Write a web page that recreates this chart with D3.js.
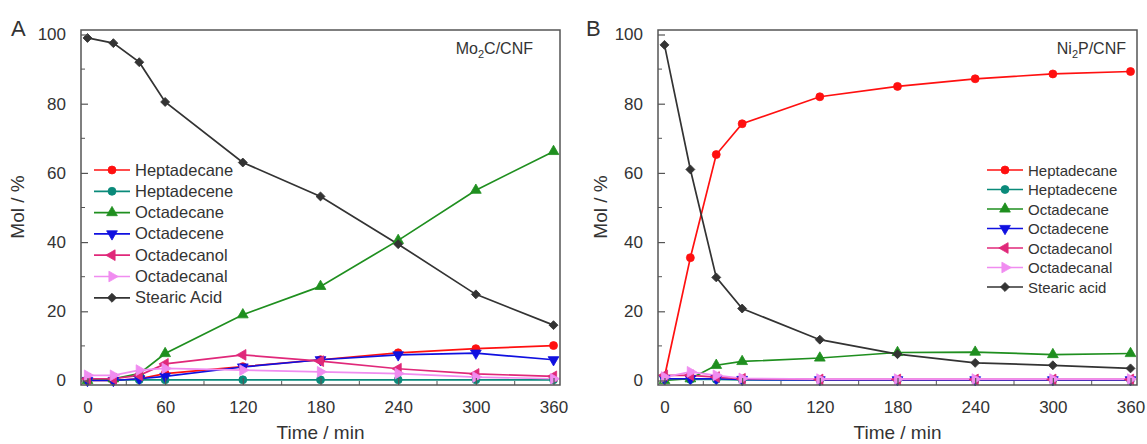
<!DOCTYPE html>
<html><head><meta charset="utf-8">
<script src="https://cdn.jsdelivr.net/npm/d3@7"></script>
<style>
html,body{margin:0;padding:0;background:#fff;}
svg{display:block;font-family:"Liberation Sans",Arial,sans-serif;}
</style></head>
<body><svg id="c" width="1147" height="444"></svg>
<script>
const times = [0, 20, 40, 60, 120, 180, 240, 300, 360];
const xTicks = [0, 60, 120, 180, 240, 300, 360];
const yTicks = [0, 20, 40, 60, 80, 100];
const seriesNamesA = ["Heptadecane","Heptadecene","Octadecane","Octadecene","Octadecanol","Octadecanal","Stearic Acid"];
const seriesNamesB = ["Heptadecane","Heptadecene","Octadecane","Octadecene","Octadecanol","Octadecanal","Stearic acid"];
const colors = ["#ff1010","#0a8a7a","#1f8f1f","#1010e0","#e0287a","#f08cf0","#333333"];
const shapes = ["circle","circle","up","down","left","right","diamond"];

// Panel A (Mo2C/CNF)
const heptadecaneA = [0, 0, 0.5, 2, 4, 6, 8, 9.2, 10.1];
const heptadeceneA = [0.2, 0.2, 0.2, 0.2, 0.2, 0.2, 0.2, 0.2, 0.2];
const octadecaneA  = [0, 0.5, 2, 7.8, 19, 27.2, 40.5, 55, 66.2];
const octadeceneA  = [0, 0, 0.5, 1.2, 3.9, 6, 7.4, 7.9, 6];
const octadecanolA = [0.5, 0.5, 1.5, 4.8, 7.4, 5.6, 3.4, 1.9, 1.2];
const octadecanalA = [1.5, 1.5, 3, 3.5, 3, 2.5, 2, 1, 0.5];
const stearicA     = [99, 97.5, 92, 80.5, 63, 53.2, 39.4, 24.9, 16];

// Panel B (Ni2P/CNF)
const heptadecaneB = [1, 35.5, 65.3, 74.2, 82, 85, 87.2, 88.6, 89.3];
const heptadeceneB = [0.5, 0.3, 0.3, 0.2, 0.2, 0.2, 0.2, 0.2, 0.2];
const octadecaneB  = [0, 0.5, 4.4, 5.5, 6.5, 8.1, 8.2, 7.5, 7.8];
const octadeceneB  = [0.5, 0.5, 0.5, 0.3, 0.2, 0.2, 0.2, 0.2, 0.2];
const octadecanolB = [1.5, 1.5, 1, 0.5, 0.3, 0.3, 0.3, 0.3, 0.3];
const octadecanalB = [1, 2.5, 1.5, 0.6, 0.4, 0.4, 0.4, 0.4, 0.4];
const stearicB     = [97, 61, 29.8, 20.8, 11.8, 7.6, 5.1, 4.4, 3.5];

const svg = d3.select("#c");
const axisColor = "#555";

function marker(g, shape, color, size) {
  let path, rot = 0;
  if (shape === "circle") path = d3.symbol(d3.symbolCircle, size)();
  else if (shape === "diamond") { path = d3.symbol(d3.symbolSquare, size*0.8)(); rot = 45; }
  else {
    path = d3.symbol(d3.symbolTriangle, size)();
    rot = {up:0, down:180, left:-90, right:90}[shape];
  }
  return g.append("path").attr("d", path).attr("fill", color)
    .attr("stroke", color).attr("stroke-width", 0.8)
    .attr("transform", (g.attr("data-t") || "") + ` rotate(${rot})`);
}

function panel(opt) {
  const x = d3.scaleLinear().domain([-5, 365]).range([opt.left, opt.right]);
  const y = d3.scaleLinear().domain([-1.3, 101.3]).range([385, 30]);
  const g = svg.append("g");

  opt.data.forEach((vals, i) => {
    const pts = times.map((t, j) => [t, vals[j]]);
    g.append("path").datum(pts)
      .attr("fill", "none").attr("stroke", colors[i]).attr("stroke-width", 1.7)
      .attr("d", d3.line().x(d => x(d[0])).y(d => y(d[1])));
  });
  opt.data.forEach((vals, i) => {
    times.forEach((t, j) => {
      const mg = g.append("g").attr("data-t", `translate(${x(t)},${y(vals[j])})`);
      marker(mg, shapes[i], colors[i], 50);
    });
  });

  g.append("rect").attr("x", opt.left).attr("y", 30)
    .attr("width", opt.right - opt.left).attr("height", 355)
    .attr("fill", "none").attr("stroke", axisColor).attr("stroke-width", 1.5);

  const xAxis = d3.axisBottom(x).tickValues(xTicks).tickSize(-7).tickPadding(16);
  const gx = g.append("g").attr("transform", "translate(0,385)").call(xAxis);
  const yAxis = d3.axisLeft(y).tickValues(yTicks).tickSize(-7).tickPadding(15);
  const gy = g.append("g").attr("transform", `translate(${opt.left},0)`).call(yAxis);
  [gx, gy].forEach(a => {
    a.select(".domain").remove();
    a.selectAll("line").attr("stroke", axisColor).attr("stroke-width", 1.2);
    a.selectAll("text").attr("fill", "#333").style("font-size", "17px")
      .style("font-family", '"Liberation Sans",Arial,sans-serif');
  });
  const xm = d3.range(30, 361, 60);
  g.selectAll(null).data(xm).enter().append("line")
    .attr("x1", d => x(d)).attr("x2", d => x(d)).attr("y1", 385).attr("y2", 381)
    .attr("stroke", axisColor).attr("stroke-width", 1);
  const ym = d3.range(10, 100, 20);
  g.selectAll(null).data(ym).enter().append("line")
    .attr("x1", opt.left).attr("x2", opt.left + 4).attr("y1", d => y(d)).attr("y2", d => y(d))
    .attr("stroke", axisColor).attr("stroke-width", 1);

  g.append("text").attr("x", (opt.left + opt.right) / 2).attr("y", 439)
    .attr("text-anchor", "middle").attr("fill", "#333").style("font-size", "19px")
    .text("Time / min");
  g.append("text").attr("transform", `translate(${opt.yLabX},207) rotate(-90)`)
    .attr("text-anchor", "middle").attr("fill", "#333").style("font-size", "19px")
    .text("Mol / %");

  g.append("text").attr("x", opt.letterX).attr("y", 36).attr("fill", "#333")
    .style("font-size", "22px").text(opt.letter);

  const cl = g.append("text").attr("x", opt.catX).attr("y", 54).attr("fill", "#333")
    .style("font-size", "16px").attr("text-anchor", "end");
  cl.append("tspan").text(opt.cat[0]);
  cl.append("tspan").attr("dy", 4).style("font-size", "11px").text("2");
  cl.append("tspan").attr("dy", -4).text(opt.cat[1]);

  opt.names.forEach((n, i) => {
    const ly = opt.legY + i * opt.legDy;
    g.append("line").attr("x1", opt.legX).attr("x2", opt.legX + 36)
      .attr("y1", ly).attr("y2", ly).attr("stroke", colors[i]).attr("stroke-width", 1.7);
    const mg = g.append("g").attr("data-t", `translate(${opt.legX + 18},${ly})`);
    marker(mg, shapes[i], colors[i], 50);
    g.append("text").attr("x", opt.legX + 41).attr("y", ly + 5.5).attr("fill", "#333")
      .style("font-size", opt.legFont + "px").text(n);
  });
}

panel({left: 81, right: 560, letter: "A", letterX: 11, cat: ["Mo", "C/CNF"], catX: 533, yLabX: 24,
  names: seriesNamesA, legX: 94, legY: 170, legDy: 21.3, legFont: 16.5,
  data: [heptadecaneA, heptadeceneA, octadecaneA, octadeceneA, octadecanolA, octadecanalA, stearicA]});
panel({left: 658, right: 1137, letter: "B", letterX: 586, cat: ["Ni", "P/CNF"], catX: 1126, yLabX: 607,
  names: seriesNamesB, legX: 987, legY: 170, legDy: 19.5, legFont: 15,
  data: [heptadecaneB, heptadeceneB, octadecaneB, octadeceneB, octadecanolB, octadecanalB, stearicB]});
</script></body></html>
